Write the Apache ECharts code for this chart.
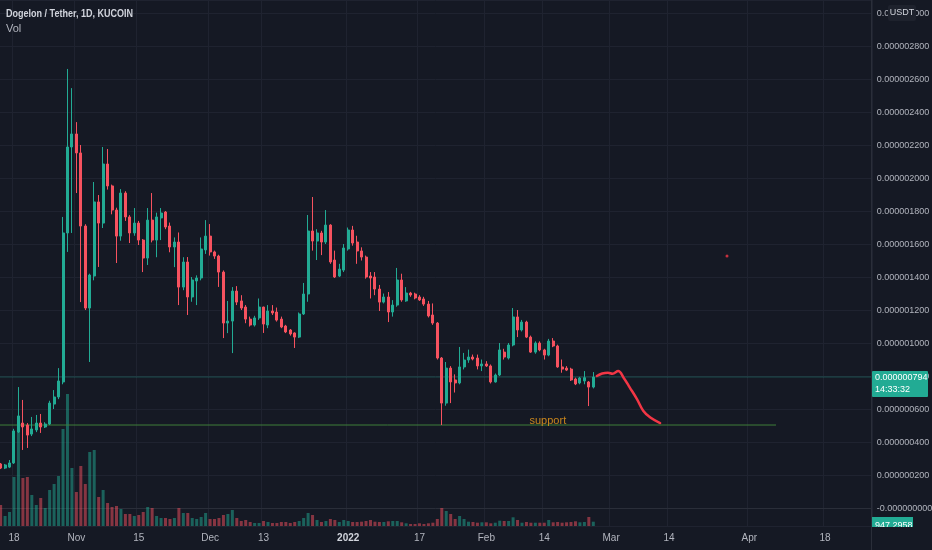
<!DOCTYPE html>
<html><head><meta charset="utf-8">
<script src="https://cdn.jsdelivr.net/npm/echarts@6/dist/echarts.min.js"></script>
<style>html,body{margin:0;padding:0;background:#151924;}#c{width:932px;height:550px;}</style>
</head><body><div id="c"></div>
<script>
// prices are stored in units of 0.000000001 USDT
const PRICE_UNIT = 1e-9;
const START_DATE = [2021, 9, 15];
const DAY_COUNT = 196;
const TICK_DATES = ['2021-10-18','2021-11-01','2021-11-15','2021-12-01','2021-12-13','2022-01-01','2022-01-17','2022-02-01','2022-02-14','2022-03-01','2022-03-14','2022-04-01','2022-04-18'];
const TICK_LABELS = ['18','Nov','15','Dec','13','2022','17','Feb','14','Mar','14','Apr','18'];

const OPEN = [267,242,248,273,461,515,503,448,473,515,491,509,630,673,764,1667,2188,2267,2152,1709,1212,1406,1855,1727,2085,1952,1806,1648,1909,1764,1667,1727,1624,1515,1745,1624,1758,1794,1709,1582,1612,1339,1491,1279,1376,1394,1564,1648,1552,1527,1430,1121,1133,1315,1255,1218,1145,1109,1152,1218,1109,1194,1188,1145,1103,1079,1061,1036,1176,1297,1679,1618,1667,1612,1715,1503,1406,1442,1570,1685,1612,1558,1521,1406,1400,1327,1248,1279,1188,1230,1382,1255,1303,1297,1279,1267,1236,1170,1121,909,636,848,776,758,855,897,915,909,861,873,861,764,806,945,909,988,1158,1079,1127,1036,945,1000,958,927,1012,982,855,848,842,782,758,770,764,733];
const CLOSE = [242,261,273,467,558,491,442,479,515,491,509,636,673,770,1667,2188,2267,2152,1709,1212,1412,1855,1727,2085,1952,1806,1648,1909,1764,1667,1727,1624,1515,1745,1624,1764,1788,1703,1582,1612,1339,1491,1279,1382,1394,1570,1648,1552,1527,1430,1121,1133,1315,1248,1212,1145,1109,1152,1218,1115,1194,1182,1139,1097,1067,1055,1036,1176,1297,1679,1618,1667,1612,1715,1491,1400,1448,1576,1685,1606,1558,1521,1400,1394,1327,1248,1279,1188,1230,1382,1261,1303,1291,1273,1261,1236,1164,1121,909,636,848,764,758,855,897,915,903,861,873,861,764,806,958,915,988,1158,1079,1127,1036,945,1000,958,927,1012,982,855,842,836,776,752,788,790,733,794];
const LOW = [236,236,242,267,455,352,364,436,460,455,485,503,600,660,750,1552,1667,1909,1248,1200,885,1380,1461,1697,1930,1780,1485,1620,1740,1606,1650,1594,1430,1473,1610,1520,1624,1690,1550,1460,1230,1320,1170,1250,1230,1380,1540,1530,1510,1340,1030,1060,939,1230,1200,1120,1100,1100,1140,1061,1090,1170,1130,1090,1060,1045,970,1030,1170,1250,1560,1503,1533,1600,1480,1394,1400,1430,1560,1590,1480,1500,1390,1270,1290,1194,1240,1127,1160,1220,1250,1250,1280,1265,1255,1225,1155,1110,900,503,620,636,700,750,840,880,895,840,830,855,755,760,800,900,900,980,1036,1070,1030,940,935,950,900,920,975,850,820,830,770,745,750,750,618,725];
const HIGH = [273,267,291,480,733,655,515,552,564,570,520,650,715,848,1764,2661,2545,2339,2200,1720,1420,1976,1897,2188,2176,1960,1820,1933,1920,1775,1818,1740,1630,1818,1909,1790,1818,1800,1730,1640,1670,1520,1521,1400,1410,1640,1745,1721,1560,1535,1440,1255,1339,1345,1290,1230,1160,1165,1270,1220,1230,1230,1215,1160,1110,1085,1065,1185,1364,1776,1885,1690,1680,1806,1720,1560,1480,1600,1700,1710,1650,1580,1530,1430,1430,1352,1300,1309,1260,1455,1420,1339,1310,1305,1290,1280,1255,1240,1127,915,885,860,810,976,940,960,930,930,900,890,870,815,1000,965,1000,1212,1200,1140,1135,1045,1010,1010,965,1025,1030,990,900,860,850,790,795,830,770,824];
const VOLUME = [4620,2200,3080,10780,22000,10560,10780,6820,4620,6160,3960,7920,9240,11000,21340,29040,12760,7480,13200,9240,16280,16720,6380,7920,5060,4180,4400,3740,2640,2640,2200,2420,3080,4180,3960,2200,1760,1760,1540,1760,3960,2860,2860,1760,1540,1980,2860,1540,1540,1760,2420,2640,3520,1760,1100,1320,880,660,660,1100,880,660,660,880,880,660,880,1100,1760,2860,2420,1320,880,1100,1540,1320,880,1320,1100,880,880,946,1100,1320,946,880,880,1034,1100,1100,814,594,440,440,594,440,594,726,1540,3960,3300,2640,1540,2200,1540,946,880,726,814,814,594,726,1166,1100,1100,1914,1320,726,880,726,726,726,726,1320,814,880,726,814,880,1034,814,880,1980,947.2958];

const LAST_PRICE = 794;
const COUNTDOWN = '14:33:32';
const SUPPORT_LEVEL = 503;
const SUPPORT_END = 174;
const SUPPORT_LABEL_AT = 122.8;
const PROJECTION = [[133.8,800],[135.0,815],[136.3,820],[137.3,814],[138.6,830],[139.8,790],[141.2,730],[142.8,660],[144.2,590],[145.8,548],[148,515]];
const MARKER = [[163,1527]];

const UP = '#22ab94', DOWN = '#f7525f', BG = '#151924', GRIDC = '#1f2330', TXT = '#b2b5be';
const FONT = "'Liberation Sans',Arial,sans-serif";

const DATES = [];
for (let i = 0; i < DAY_COUNT; i++) {
  const d = new Date(Date.UTC(START_DATE[0], START_DATE[1], START_DATE[2] + i));
  DATES.push(d.toISOString().slice(0, 10));
}
const candles = OPEN.map((o, i) => [o, CLOSE[i], LOW[i], HIGH[i]]);
const vols = VOLUME.map((v, i) => ({ value: v, itemStyle: { color: CLOSE[i] >= OPEN[i] ? 'rgba(34,171,148,0.5)' : 'rgba(247,82,95,0.5)' } }));
const isTick = (idx, val) => TICK_DATES.indexOf(val) >= 0;

const GL = -1.6, GR = 60.2;
const chart = echarts.init(document.getElementById('c'), null, { renderer: 'canvas' });
chart.setOption({
  backgroundColor: BG,
  animation: false,
  textStyle: { fontFamily: FONT },
  grid: [{ left: GL, right: GR, top: 0, bottom: 24, containLabel: false, outerBoundsMode: 'none' }],
  xAxis: [
    { type: 'category', data: DATES, boundaryGap: true,
      axisLine: { show: true, lineStyle: { color: '#2a2e39' } },
      axisTick: { show: false },
      axisLabel: { interval: isTick, color: TXT, fontSize: 10, fontFamily: FONT, margin: 7, hideOverlap: false,
        formatter: v => { const k = TICK_DATES.indexOf(v); const t = TICK_LABELS[k]; return t === '2022' ? '{b|' + t + '}' : t; },
        rich: { b: { fontWeight: 'bold', color: '#d1d4dc', fontSize: 10, fontFamily: FONT } } },
      splitLine: { show: true, interval: isTick, lineStyle: { color: GRIDC, width: 1 } } },
    { type: 'value', min: -0.5, max: DAY_COUNT - 0.5, show: false }
  ],
  yAxis: [
    { type: 'value', position: 'right', min: -109, max: 3079, splitNumber: 16, scale: false,
      axisLine: { show: false }, axisTick: { show: false },
      axisLabel: { color: TXT, fontSize: 9, fontFamily: FONT, margin: 5, showMinLabel: false, showMaxLabel: false, hideOverlap: false,
        formatter: v => v === 0 ? '-0.000000000' : (v * PRICE_UNIT).toFixed(9) },
      splitLine: { show: true, lineStyle: { color: GRIDC, width: 1 } } },
    { type: 'value', min: 0, max: 115700, show: false, splitLine: { show: false } }
  ],
  series: [
    { type: 'bar', name: 'Vol', xAxisIndex: 0, yAxisIndex: 1, data: vols, barWidth: 3, z: 1, silent: true },
    { type: 'line', xAxisIndex: 1, yAxisIndex: 0, data: [[-0.5, LAST_PRICE], [DAY_COUNT - 0.5, LAST_PRICE]],
      symbol: 'none', lineStyle: { color: UP, width: 1, opacity: 0.35 }, z: 2, silent: true },
    { type: 'line', xAxisIndex: 1, yAxisIndex: 0, data: [[-0.5, SUPPORT_LEVEL], [SUPPORT_END, SUPPORT_LEVEL]],
      symbol: 'none', lineStyle: { color: '#3f7f3a', width: 1 }, z: 2, silent: true },
    { type: 'candlestick', xAxisIndex: 0, yAxisIndex: 0, data: candles, barWidth: 2.5, z: 3,
      itemStyle: { color: UP, color0: DOWN, borderColor: UP, borderColor0: DOWN, borderWidth: 1 } },
    { type: 'line', xAxisIndex: 1, yAxisIndex: 0, data: PROJECTION, smooth: 0.4, symbol: 'none',
      lineStyle: { color: '#f23645', width: 2.5, cap: 'round' }, z: 4, silent: true },
    { type: 'scatter', xAxisIndex: 1, yAxisIndex: 0, data: MARKER, symbolSize: 3, itemStyle: { color: '#f23645' }, z: 4, silent: true },
    { type: 'scatter', xAxisIndex: 1, yAxisIndex: 0, data: [[SUPPORT_LABEL_AT, SUPPORT_LEVEL]], symbolSize: 0, z: 4, silent: true,
      label: { show: true, position: 'inside', offset: [0, -4], formatter: 'support', color: '#f5a01a', fontSize: 11, fontFamily: FONT } }
  ],
  graphic: [
    { type: 'text', x: 6, y: 8, scaleX: 0.82, style: { text: 'Dogelon / Tether, 1D, KUCOIN', fill: '#d1d4dc', font: '600 11px ' + FONT }, z: 10 },
    { type: 'text', x: 6, y: 23, style: { text: 'Vol', fill: TXT, font: '11px ' + FONT }, z: 10 },
    { type: 'line', shape: { x1: 871.5, y1: 0, x2: 871.5, y2: 550 }, style: { stroke: '#2a2e39', lineWidth: 1 }, z: 10 },
    { type: 'rect', shape: { x: 888, y: 5, width: 28, height: 16, r: 2 }, style: { fill: '#1e222d' }, z: 11 },
    { type: 'text', x: 902, y: 13, style: { text: 'USDT', fill: '#d1d4dc', font: '9px ' + FONT, align: 'center', verticalAlign: 'middle' }, z: 12 },
    { type: 'rect', shape: { x: 872, y: 371, width: 56, height: 26, r: 1 }, style: { fill: UP }, z: 11 },
    { type: 'text', x: 875, y: 378, style: { text: (LAST_PRICE * PRICE_UNIT).toFixed(9), fill: '#ffffff', font: '9px ' + FONT, verticalAlign: 'middle' }, z: 12 },
    { type: 'text', x: 875, y: 390, style: { text: COUNTDOWN, fill: '#ffffff', font: '9px ' + FONT, verticalAlign: 'middle' }, z: 12 },
    { type: 'rect', shape: { x: 872, y: 517, width: 41, height: 14 }, style: { fill: UP }, z: 11 },
    { type: 'text', x: 875, y: 526, style: { text: VOLUME[VOLUME.length - 1].toFixed(4), fill: '#ffffff', font: '9px ' + FONT, verticalAlign: 'middle' }, z: 12 },
    { type: 'rect', shape: { x: 872, y: 527, width: 60, height: 23 }, style: { fill: BG }, z: 13 }
  ]
});
</script></body></html>
